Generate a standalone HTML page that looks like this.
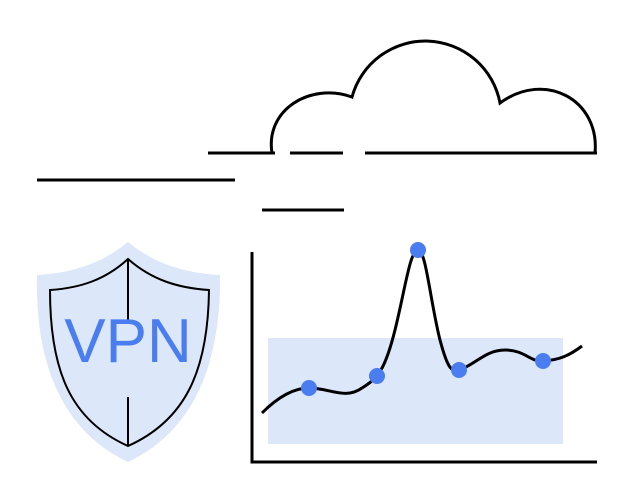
<!DOCTYPE html>
<html><head><style>html,body{margin:0;padding:0;background:#fff;}svg{display:block}</style></head>
<body>
<svg width="634" height="500" viewBox="0 0 634 500" xmlns="http://www.w3.org/2000/svg">
<g fill="none" stroke="#000" stroke-width="3">
<path d="M208 153H275M290 153H343M365 153H597"/>
<path d="M272 153 C265 110 310 82 352 97 A76 76 0 0 1 500 103 C545 70 600 100 595 153"/>
<path d="M37 180H235M262 210H344"/>
</g>
<path d="M128 242 C100 265 70 273 37 275 C35 360 60 430 128 462 C196 430 221 360 220 275 C186 273 156 265 128 242Z" fill="#dce7f9"/>
<g fill="none" stroke="#000" stroke-width="2">
<path d="M128 259 C105 280 80 288 50 290 C50 370 70 420 128 446 C186 420 208 370 209 290 C178 288 152 280 128 259Z"/>
<path d="M128 259V322M128 397V446"/>
</g>
<text x="128" y="362" text-anchor="middle" font-family="Liberation Sans, sans-serif" font-size="62" fill="#4a7ef0">VPN</text>
<rect x="268" y="338" width="295" height="106" fill="#dce7f9"/>
<path d="M252 252V462H597" fill="none" stroke="#000" stroke-width="3"/>
<path d="M262 413 C280 395 295 388 309 388 C330 388 345 400 362 388 C378 378 385 370 395 330 C405 290 410 250 418 250 C426 250 430 300 440 340 C448 370 452 372 459 370 C475 365 485 350 505 350 C525 350 530 362 543 361 C560 360 570 355 582 346" fill="none" stroke="#000" stroke-width="3"/>
<g fill="#4a7ef0">
<circle cx="309" cy="388" r="8"/><circle cx="377" cy="376" r="8"/><circle cx="418" cy="250" r="8"/><circle cx="459" cy="370" r="8"/><circle cx="543" cy="361" r="8"/>
</g>
</svg>
</body></html>
